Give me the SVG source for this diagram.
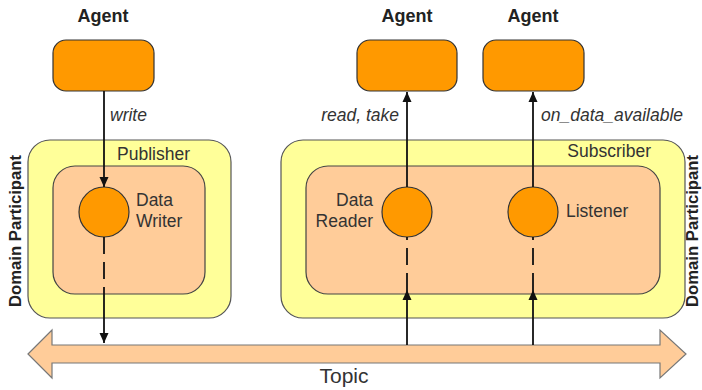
<svg xmlns="http://www.w3.org/2000/svg" width="702" height="390" viewBox="0 0 702 390">
  <defs>
    <style>
      text { font-family: "Liberation Sans", Arial, sans-serif; fill: #333; }
      .agent { fill: #FF9900; stroke: #333; stroke-width: 1.2; }
      .outer { fill: #FFFF99; stroke: #555; stroke-width: 1.2; }
      .inner { fill: #FFCC99; stroke: #444; stroke-width: 1.2; }
      .entity { fill: #FF9900; stroke: #333; stroke-width: 1.2; }
      .title { font-size: 18px; font-weight: bold; fill: #222; }
      .label { font-size: 17.5px; }
      .op { font-size: 17.5px; font-style: italic; }
      .dp { font-size: 16.7px; font-weight: bold; fill: #222; }
      .line { stroke: #111; stroke-width: 1.8; fill: none; }
      .dash { stroke: #111; stroke-width: 1.8; fill: none; stroke-dasharray: 17 8; }
    </style>
    <marker id="arrow" viewBox="0 0 10 12" refX="10" refY="6" markerWidth="10" markerHeight="12" markerUnits="userSpaceOnUse" orient="auto">
      <path d="M0,1.5 L10,6 L0,10.5 Z" fill="#111"/>
    </marker>
  </defs>

  <!-- Topic bus -->
  <g id="topic">
    <path d="M28,354 L52,330 L52,345 L660,345 L660,330 L686,354 L660,378 L660,363 L52,363 L52,378 Z" fill="#FFCC99" stroke="#777" stroke-width="1.2"/>
    <text x="344" y="383" text-anchor="middle" style="font-size:21px">Topic</text>
  </g>

  <!-- Publisher side -->
  <g id="publisher">
    <rect class="outer" x="28" y="140" width="203" height="178" rx="22"/>
    <text class="label" x="117" y="160">Publisher</text>
    <rect class="inner" x="53" y="166" width="152" height="128" rx="22"/>
  </g>
  <g id="datawriter">
    <circle class="entity" cx="104" cy="212" r="25"/>
    <text class="label" x="136" y="206">Data</text>
    <text class="label" x="136" y="227">Writer</text>
  </g>

  <!-- Subscriber side -->
  <g id="subscriber">
    <rect class="outer" x="281" y="140" width="404" height="178" rx="22"/>
    <text class="label" x="651" y="157" text-anchor="end">Subscriber</text>
    <rect class="inner" x="306" y="166" width="354" height="128" rx="22"/>
  </g>
  <g id="datareader">
    <circle class="entity" cx="407" cy="212" r="25"/>
    <text class="label" x="373" y="206" text-anchor="end">Data</text>
    <text class="label" x="373" y="227" text-anchor="end">Reader</text>
  </g>
  <g id="listener">
    <circle class="entity" cx="533" cy="212" r="25"/>
    <text class="label" x="566" y="217">Listener</text>
  </g>

  <!-- Agents -->
  <g id="agent-writer">
    <text class="title" x="103" y="22" text-anchor="middle">Agent</text>
    <rect class="agent" x="53" y="40" width="101" height="51" rx="13"/>
  </g>
  <g id="agent-reader">
    <text class="title" x="407" y="22" text-anchor="middle">Agent</text>
    <rect class="agent" x="357" y="40" width="100" height="51" rx="13"/>
  </g>
  <g id="agent-listener">
    <text class="title" x="533" y="22" text-anchor="middle">Agent</text>
    <rect class="agent" x="483" y="40" width="101" height="51" rx="13"/>
  </g>

  <!-- Domain participant captions -->
  <g id="domain-participant">
    <text class="dp" transform="translate(21,231) rotate(-90)" text-anchor="middle">Domain Participant</text>
    <text class="dp" transform="translate(697.5,231) rotate(-90)" text-anchor="middle">Domain Participant</text>
  </g>

  <!-- Connectors -->
  <g id="connectors">
    <line class="line" x1="104" y1="91" x2="104" y2="187" marker-end="url(#arrow)"/>
    <line class="dash" x1="104" y1="237" x2="104" y2="290"/>
    <line class="line" x1="104" y1="290" x2="104" y2="343" marker-end="url(#arrow)"/>

    <line class="line" x1="407" y1="345" x2="407" y2="290" marker-end="url(#arrow)"/>
    <line class="dash" x1="407" y1="290" x2="407" y2="237"/>
    <line class="line" x1="407" y1="187" x2="407" y2="92" marker-end="url(#arrow)"/>

    <line class="line" x1="533" y1="345" x2="533" y2="290" marker-end="url(#arrow)"/>
    <line class="dash" x1="533" y1="290" x2="533" y2="237"/>
    <line class="line" x1="533" y1="187" x2="533" y2="92" marker-end="url(#arrow)"/>

    <text class="op" x="110" y="121">write</text>
    <text class="op" x="399" y="121" text-anchor="end">read, take</text>
    <text class="op" x="541" y="121">on_data_available</text>
  </g>
</svg>
